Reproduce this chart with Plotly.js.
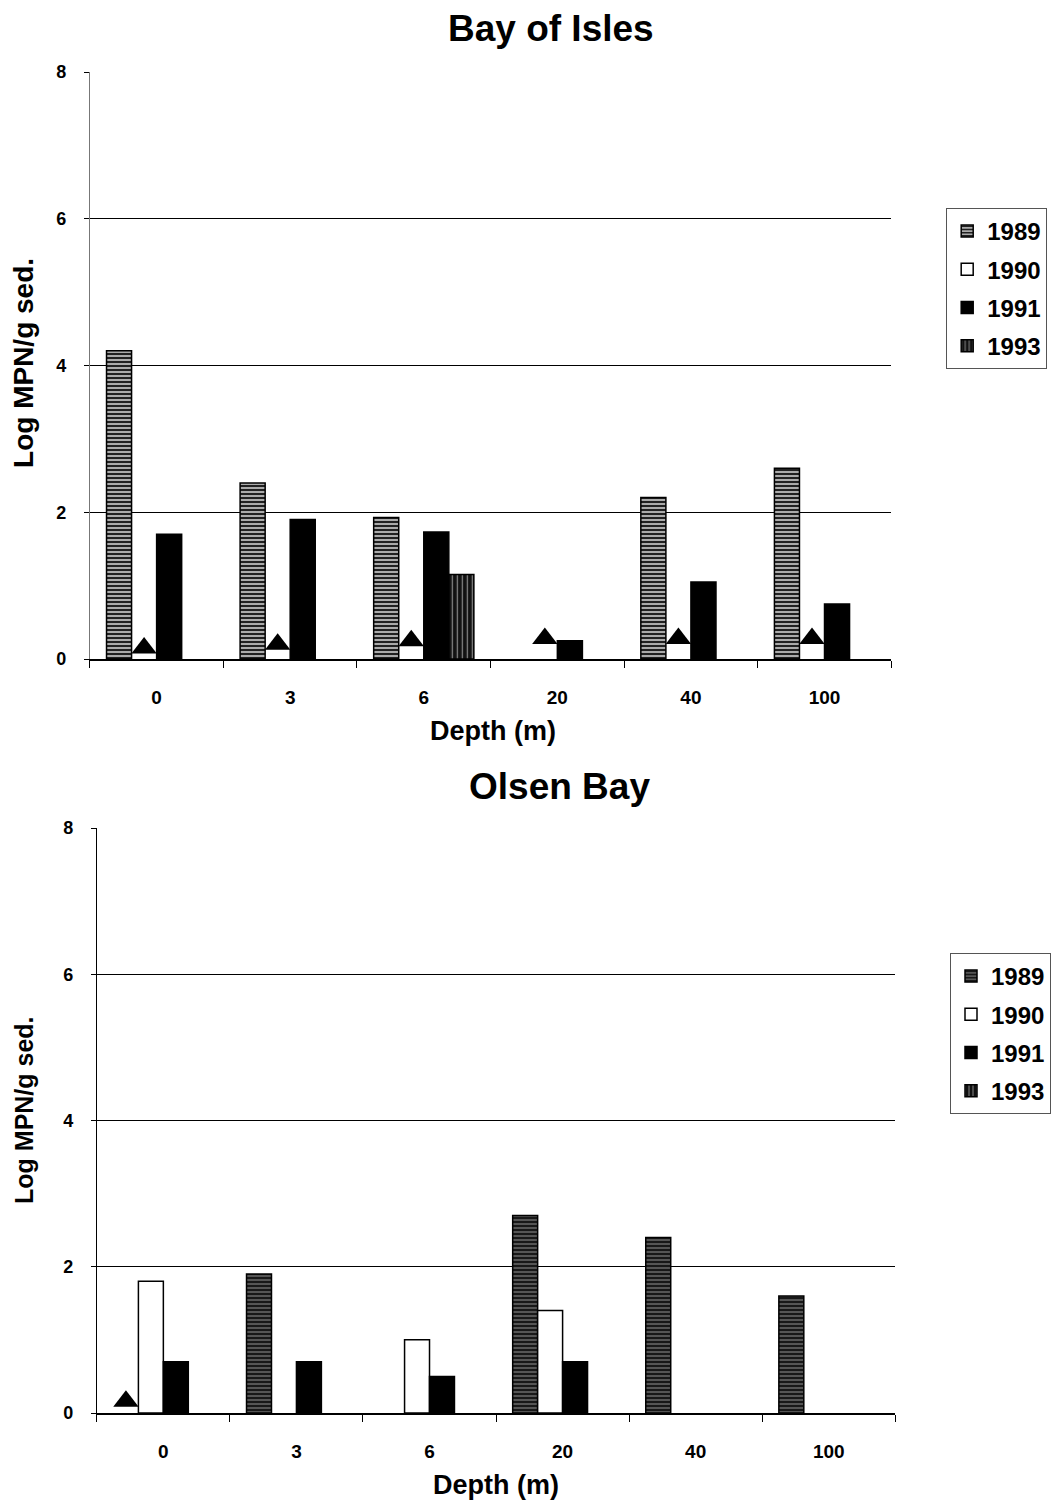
<!DOCTYPE html>
<html>
<head>
<meta charset="utf-8">
<script src="https://cdn.plot.ly/plotly-3.0.1.min.js"></script>
<style>html,body{margin:0;padding:0;background:#fff;}</style>
</head>
<body>
<div id="chart" style="width:1051px;height:1503px;"></div>
<script>
// ---- data ----
const depths = ['0', '3', '6', '20', '40', '100'];
const seriesNames = ['1989', '1990', '1991', '1993'];

// Bay of Isles
const bay1989 = [4.2, 2.4, 1.93, null, 2.2, 2.6];
const bay1990 = [null, null, null, null, null, null];
const bay1991 = [1.7, 1.9, 1.73, 0.25, 1.05, 0.75];
const bay1993 = [null, null, 1.15, null, null, null];
const bayTriangles = [0.15, 0.2, 0.25, 0.28, 0.28, 0.28];   // shown in the 1990 slot
const bayTriangleSeries = '1990';

// Olsen Bay
const olsen1989 = [null, 1.9, null, 2.7, 2.4, 1.6];
const olsen1990 = [1.8, null, 1.0, 1.4, null, null];
const olsen1991 = [0.7, 0.7, 0.5, 0.7, null, null];
const olsen1993 = [null, null, null, null, null, null];
const olsenTriangles = [0.16, null, null, null, null, null]; // shown in the 1989 slot
const olsenTriangleSeries = '1989';

const yTicks = [0, 2, 4, 6, 8];
const gridVals = [2, 4, 6];

// ---- styling ----
const FONT = 'Liberation Sans, Arial, sans-serif';
const bargap = 0.25;
const idx = depths.map((_, i) => i);
const slotW = (1 - bargap) / seriesNames.length;
const slotOffset = name => -(1 - bargap) / 2 + slotW * (seriesNames.indexOf(name) + 0.5);

function styles(dark) {
  return {
    '1989': {color: dark ? '#555' : '#aaa', line: {color: '#000', width: 1.5},
             pattern: {shape: '-', fgcolor: '#111', bgcolor: dark ? '#555' : '#aaa', size: 4, solidity: 0.45}},
    '1990': {color: '#fff', line: {color: '#000', width: 1.5}},
    '1991': {color: '#000', line: {color: '#000', width: 1.5}},
    '1993': {color: '#111', line: {color: '#000', width: 1.5},
             pattern: {shape: '|', fgcolor: '#888', bgcolor: '#111', size: 5, solidity: 0.25}}
  };
}

function makeTraces(vals, tri, triSeries, xa, ya, leg, dark) {
  const st = styles(dark);
  const out = seriesNames.map((n, k) => ({
    type: 'bar', name: n, x: idx, y: vals[k], xaxis: xa, yaxis: ya,
    legend: leg, legendgroup: leg + n, marker: st[n], hoverinfo: 'y'
  }));
  out.push({
    type: 'scatter', mode: 'markers', x: idx.map(i => i + slotOffset(triSeries)), y: tri,
    xaxis: xa, yaxis: ya, showlegend: false,
    marker: {symbol: 'triangle-up', size: 22, color: '#000'}
  });
  return out;
}

const traces = [].concat(
  makeTraces([bay1989, bay1990, bay1991, bay1993], bayTriangles, bayTriangleSeries, 'x', 'y', 'legend', false),
  makeTraces([olsen1989, olsen1990, olsen1991, olsen1993], olsenTriangles, olsenTriangleSeries, 'x2', 'y2', 'legend2', true)
);

const W = 1051, H = 1503;
const px = v => v / W, py = v => 1 - v / H;

function xAxis(domain, anchor) {
  return {
    domain: domain, anchor: anchor, range: [-0.5, depths.length - 0.5],
    tickmode: 'array', tickvals: idx, ticktext: depths, ticks: '',
    ticklabelstandoff: 20,
    minor: {tickmode: 'array', tickvals: idx.map(i => i - 0.5).concat([depths.length - 0.5]),
            ticks: 'outside', ticklen: 7, tickwidth: 1, tickcolor: '#000', showgrid: false},
    showline: true, linecolor: '#000', linewidth: 2, showgrid: false, zeroline: false,
    tickfont: {family: FONT, size: 19, weight: 'bold', color: '#000'},
    fixedrange: true
  };
}
function yAxis(domain, anchor, lineColor) {
  return {
    domain: domain, anchor: anchor, range: [0, 8], tickmode: 'array', tickvals: yTicks,
    ticks: 'outside', ticklen: 5, tickcolor: '#000', ticklabelstandoff: 14,
    showline: true, linecolor: lineColor, linewidth: 1, showgrid: false, zeroline: false,
    minor: {tickmode: 'array', tickvals: gridVals, showgrid: true, gridcolor: '#000', gridwidth: 1.2, ticks: ''},
    tickfont: {family: FONT, size: 18, weight: 'bold', color: '#000'},
    fixedrange: true
  };
}

const titleFont = {family: FONT, size: 37, weight: 'bold', color: '#000'};
const axTitleFont = s => ({family: FONT, size: s, weight: 'bold', color: '#000'});
const legendFont = {family: FONT, size: 24, weight: 'bold', color: '#000'};

function ann(text, x, y, font, angle) {
  return {text: text, x: px(x), y: py(y), xref: 'paper', yref: 'paper', textangle: angle || 0,
          xanchor: 'center', yanchor: 'middle', showarrow: false, font: font};
}

const layout = {
  width: W, height: H,
  margin: {l: 0, r: 0, t: 0, b: 0},
  paper_bgcolor: '#fff', plot_bgcolor: 'rgba(0,0,0,0)',
  barmode: 'group', bargap: bargap, bargroupgap: 0,
  font: {family: FONT, color: '#000'},
  xaxis: xAxis([px(90), px(893)], 'y'),
  yaxis: yAxis([py(659), py(72)], 'x', '#777'),
  xaxis2: xAxis([px(97), px(897)], 'y2'),
  yaxis2: yAxis([py(1413), py(828)], 'x2', '#000'),
  legend: {x: px(948), y: py(208), xanchor: 'left', yanchor: 'top', font: legendFont,
           bordercolor: '#555', borderwidth: 1, bgcolor: '#fff', traceorder: 'grouped',
           tracegroupgap: 4, itemwidth: 30},
  legend2: {x: px(952), y: py(953), xanchor: 'left', yanchor: 'top', font: legendFont,
            bordercolor: '#555', borderwidth: 1, bgcolor: '#fff', traceorder: 'grouped',
            tracegroupgap: 4, itemwidth: 30},
  annotations: [
    ann('Bay of Isles', 552, 28, titleFont),
    ann('Olsen Bay', 561, 786, titleFont),
    ann('Depth (m)', 494, 731, axTitleFont(27)),
    ann('Depth (m)', 497, 1485, axTitleFont(27)),
    ann('Log MPN/g sed.', 24, 363, axTitleFont(28), -90),
    ann('Log MPN/g sed.', 24, 1110, axTitleFont(25), -90)
  ],
  showlegend: true
};

Plotly.newPlot('chart', traces, layout, {displayModeBar: false, staticPlot: true});
</script>
</body>
</html>
